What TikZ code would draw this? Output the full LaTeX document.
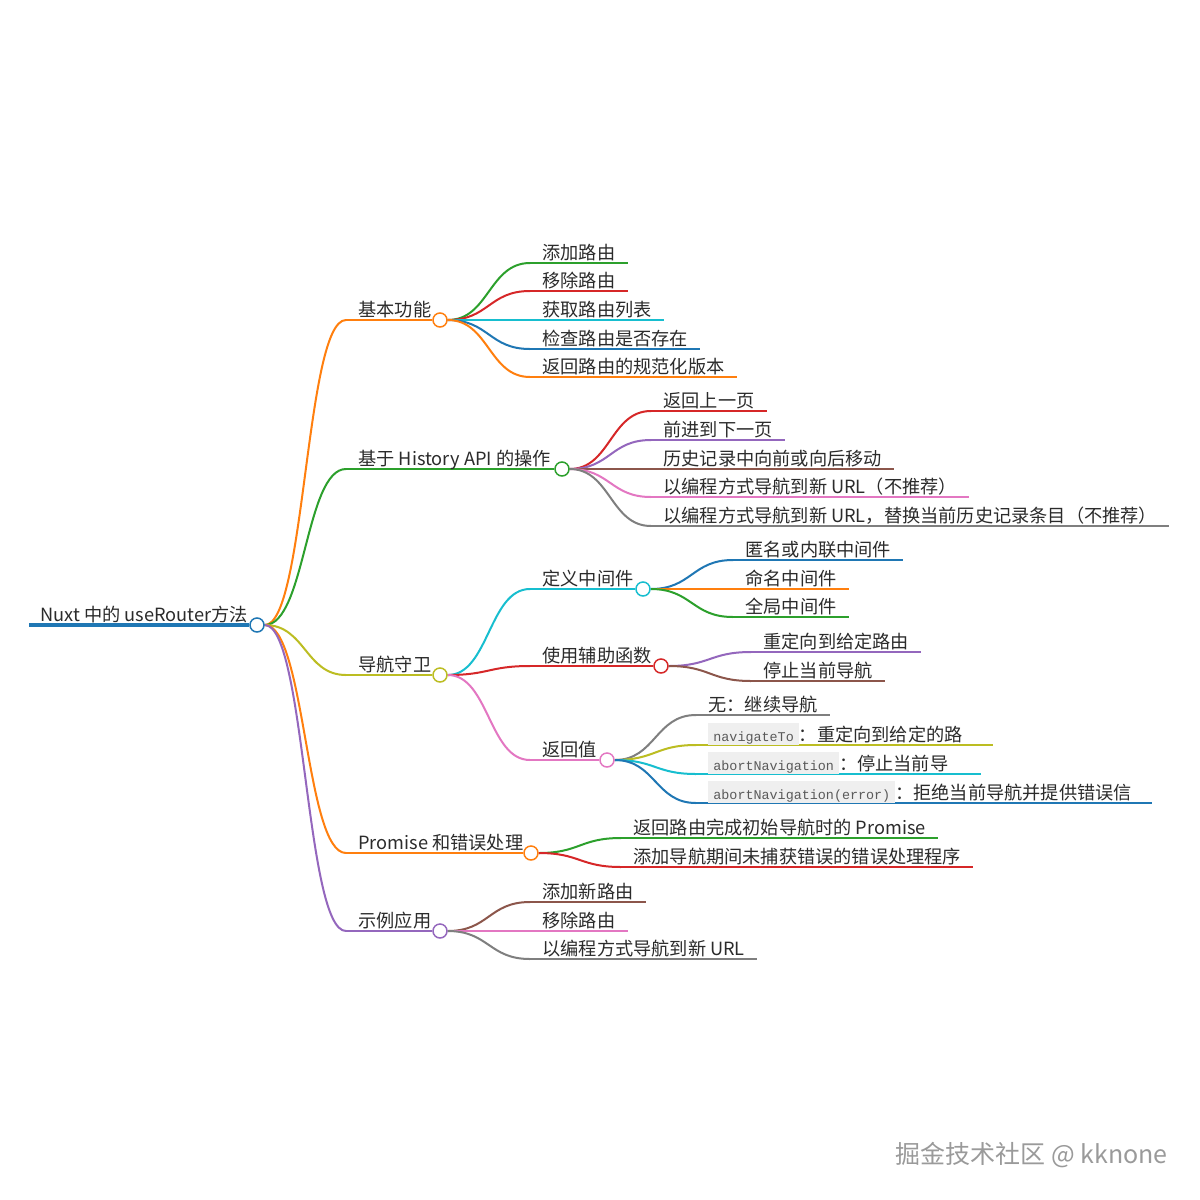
\documentclass[tikz,border=0pt]{standalone}
\usepackage{fontspec}
\setmainfont{Noto Sans CJK SC}
\newfontfamily\codefont{Liberation Mono}
\usetikzlibrary{calc,backgrounds}

\definecolor{mblue}{HTML}{1F77B4}
\definecolor{morange}{HTML}{FF7F0E}
\definecolor{mgreen}{HTML}{2CA02C}
\definecolor{mred}{HTML}{D62728}
\definecolor{mpurple}{HTML}{9467BD}
\definecolor{mbrown}{HTML}{8C564B}
\definecolor{mpink}{HTML}{E377C2}
\definecolor{mgray}{HTML}{7F7F7F}
\definecolor{molive}{HTML}{BCBD22}
\definecolor{mcyan}{HTML}{17BECF}
\definecolor{ink}{HTML}{2B2B2B}
\definecolor{codebg}{HTML}{EFEFEF}
\definecolor{codeink}{HTML}{5A5A5A}
\definecolor{wmgray}{HTML}{9A9A9A}

% inline code in a grey box
\newcommand{\code}[1]{{\setlength{\fboxsep}{0pt}\colorbox{codebg}{\hspace{2.5pt}\rule[-2pt]{0pt}{11pt}{\codefont\fontsize{6.7}{8}\selectfont\color{codeink}#1}\hspace{2.5pt}}}}

% curved link: colour, from, to
\newcommand{\mmlink}[3]{%
  \path ($(#2)!0.5!(#3)$) coordinate (mid);
  \draw[link,#1] (#2) .. controls (mid |- #2) and (mid |- #3) .. (#3);}

% inner node: name, parent, colour, x, y, circle x, text
\newcommand{\mmnode}[7]{%
  \coordinate (#1-s) at (#4,#5);
  \node[dot,draw=#3] (#1) at (#6,#5) {};
  \node[txt] (#1-t) at ($(#1-s)+(12,-4)$) {#7};
  \begin{scope}[on background layer]
    \draw[branch,#3] (#1-s) -- (#1.west);
    \mmlink{#3}{#2.east}{#1-s}
  \end{scope}}

% leaf: [tail], name, parent, colour, x, y, text
\newcommand{\mmleaf}[7][12]{%
  \coordinate (#2-s) at (#5,#6);
  \node[txt] (#2) at ($(#2-s)+(12,-4)$) {#7};
  \begin{scope}[on background layer]
    \draw[branch,#4] (#2-s) -- (#2-s -| #2.east) -- ++(#1,0);
    \mmlink{#4}{#3.east}{#2-s}
  \end{scope}}

\begin{document}
\begin{tikzpicture}[x=0.5pt, y=-0.5pt,
  txt/.style={anchor=base west, inner sep=0pt, font=\fontsize{9.1}{11}\selectfont, text=ink},
  dot/.style={circle, draw, fill=white, line width=0.75pt, minimum size=7pt, inner sep=0pt},
  branch/.style={line width=1pt},
  link/.style={line width=1pt},
  wmtext/.style={inner sep=0pt, font=\fontsize{12.5}{14}\selectfont, text=wmgray}
]
\useasboundingbox (0,0) rectangle (1200,1200);
\begin{scope}[on background layer]
  \fill[white] (0,0) rectangle (1200,1200);
\end{scope}

% root
\coordinate (root-s) at (29,625);
\node[dot,draw=mblue] (root) at (257,625) {};
\node[txt] (root-t) at (40,621) {Nuxt 中的 useRouter方法};
\draw[mblue, line width=2pt] (root-s) -- (root.west);

% basics
\mmnode{a}{root}{morange}{346}{320}{440}{基本功能}
\mmleaf{a1}{a}{mgreen}{530}{263}{添加路由}
\mmleaf{a2}{a}{mred}{530}{291}{移除路由}
\mmleaf{a3}{a}{mcyan}{530}{320}{获取路由列表}
\mmleaf{a4}{a}{mblue}{530}{349}{检查路由是否存在}
\mmleaf{a5}{a}{morange}{530}{377}{返回路由的规范化版本}

% history
\mmnode{b}{root}{mgreen}{346}{469}{562}{基于 History API 的操作}
\mmleaf{b1}{b}{mred}{651}{411}{返回上一页}
\mmleaf{b2}{b}{mpurple}{651}{440}{前进到下一页}
\mmleaf{b3}{b}{mbrown}{651}{469}{历史记录中向前或向后移动}
\mmleaf{b4}{b}{mpink}{651}{497}{以编程方式导航到新 URL（不推荐）}
\mmleaf{b5}{b}{mgray}{651}{526}{以编程方式导航到新 URL，替换当前历史记录条目（不推荐）}

% guards
\mmnode{c}{root}{molive}{346}{675}{440}{导航守卫}
\mmnode{c1}{c}{mcyan}{530}{589}{643}{定义中间件}
\mmleaf{c11}{c1}{mblue}{733}{560}{匿名或内联中间件}
\mmleaf{c12}{c1}{morange}{733}{589}{命名中间件}
\mmleaf{c13}{c1}{mgreen}{733}{617}{全局中间件}
\mmnode{c2}{c}{mred}{530}{666}{661}{使用辅助函数}
\mmleaf{c21}{c2}{mpurple}{751}{652}{重定向到给定路由}
\mmleaf{c22}{c2}{mbrown}{751}{681}{停止当前导航}
\mmnode{c3}{c}{mpink}{530}{760}{607}{返回值}
\mmleaf{c31}{c3}{mgray}{696}{715}{无：继续导航}
\mmleaf[30]{c32}{c3}{molive}{696}{745}{\code{navigateTo}：重定向到给定的路}
\mmleaf[32]{c33}{c3}{mcyan}{696}{774}{\code{abortNavigation}：停止当前导}
\mmleaf[20]{c34}{c3}{mblue}{696}{803}{\code{abortNavigation(error)}：拒绝当前导航并提供错误信}

% promise
\mmnode{d}{root}{morange}{346}{853}{531}{Promise 和错误处理}
\mmleaf{d1}{d}{mgreen}{621}{838}{返回路由完成初始导航时的 Promise}
\mmleaf{d2}{d}{mred}{621}{867}{添加导航期间未捕获错误的错误处理程序}

% examples
\mmnode{e}{root}{mpurple}{346}{931}{440}{示例应用}
\mmleaf{e1}{e}{mbrown}{530}{902}{添加新路由}
\mmleaf{e2}{e}{mpink}{530}{931}{移除路由}
\mmleaf{e3}{e}{mgray}{530}{959}{以编程方式导航到新 URL}

\node[wmtext, anchor=east] (wm) at (1168,1155) {掘金技术社区 @ kknone};
\end{tikzpicture}
\end{document}
